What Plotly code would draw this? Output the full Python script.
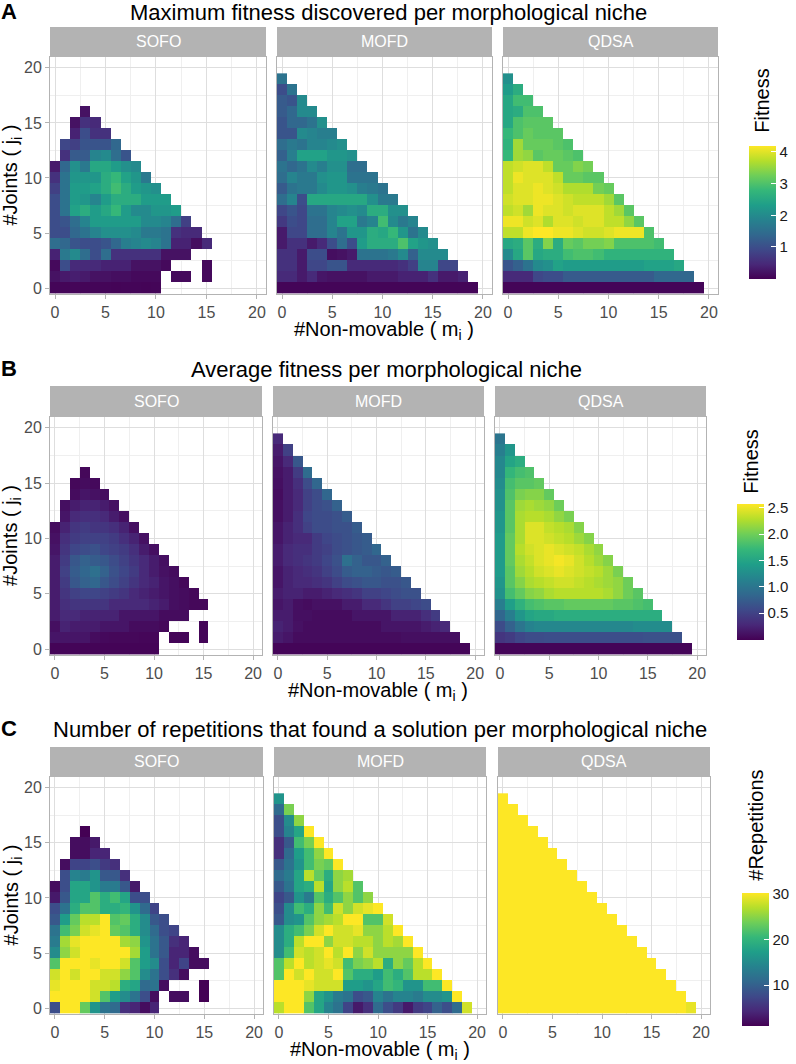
import plotly.graph_objects as go

W, H = 796, 1064

methods = ["SOFO", "MOFD", "QDSA"]
m_vals = list(range(20))   # non-movable modules
j_vals = list(range(20))   # joints
N = None

# ---- A: maximum fitness, rows are j = 0, 1, 2 ... (values for m = 0, 1, ...)
max_sofo = [
    [0.05, 0.05, 0.06, 0.05, 0.05, 0.05, 0.04, 0.05, 0.05, 0.04, 0.05],
    [0.2, 0.3, 0.35, 0.3, 0.2, 0.2, 0.15, 0.15, 0.1, 0.1, 0.1, N, 0.1, 0.1, N, 0.1],
    [0.1, 1.0, 0.5, 0.5, 0.5, 0.4, 0.4, 0.4, 0.2, 0.2, 0.2, 0.1, N, N, N, 0.1],
    [0.4, 1.7, 2.0, 1.5, 1.0, 1.5, 0.6, 0.6, 0.6, 0.6, 0.6, 0.2, 0.2, 0.2],
    [1.5, 1.4, 1.1, 1.0, 1.0, 1.1, 1.4, 1.8, 1.9, 2.0, 1.9, 1.6, 0.4, 0.4, 0.15, 0.5],
    [1.0, 1.0, 1.4, 1.6, 1.9, 2.1, 2.1, 2.1, 2.0, 1.7, 1.7, 1.6, 0.6, 0.5, 0.5],
    [1.0, 1.1, 1.5, 1.9, 2.3, 2.3, 2.3, 2.3, 2.3, 2.0, 2.0, 1.9, 1.5, 0.8],
    [1.0, 1.6, 2.4, 2.6, 2.3, 2.5, 2.8, 2.3, 2.0, 2.0, 2.2, 2.2, 2.3],
    [1.0, 1.6, 2.3, 2.2, 1.9, 2.3, 2.6, 2.6, 2.6, 2.3, 2.3, 2.3],
    [0.8, 1.6, 2.3, 2.3, 2.4, 2.6, 2.9, 2.6, 2.3, 2.2, 2.1],
    [0.6, 1.6, 2.2, 2.2, 2.2, 2.6, 2.8, 2.4, 2.2, 1.7],
    [0.3, 1.4, 2.1, 1.7, 2.5, 2.5, 2.3, 2.1, 2.0],
    [N, 0.6, 1.2, 1.2, 1.9, 2.0, 1.5, 1.1],
    [N, 0.9, 0.8, 1.1, 1.1, 1.1, 1.4],
    [N, N, 0.4, 1.0, 0.6, 0.6],
    [N, N, 0.2, 0.6, 0.5],
    [N, N, N, 0.2],
]
max_mofd = [
    [0.05, 0.05, 0.05, 0.05, 0.05, 0.05, 0.05, 0.05, 0.05, 0.05,
     0.05, 0.05, 0.05, 0.05, 0.05, 0.05, 0.05, 0.05, 0.05, 0.05],
    [0.5, 0.5, 0.3, 0.5, 0.25, 0.2, 0.2, 0.2, 0.2, 0.3, 0.3, 0.3, 0.4, 0.4, 0.4, 0.6, 0.3, 0.3, 0.4],
    [0.6, 0.6, 0.3, 0.9, 0.9, 1.1, 1.1, 0.5, 0.5, 0.5, 0.5, 0.5, 0.6, 0.8, 1.9, 1.9, 0.9, 0.9],
    [0.6, 0.6, 0.3, 1.0, 1.0, 0.15, 0.2, 0.3, 1.6, 1.6, 1.6, 1.7, 2.0, 1.3, 2.0, 2.0, 2.0],
    [0.3, 0.6, 0.6, 0.3, 0.5, 1.0, 1.5, 1.0, 2.3, 2.6, 2.6, 2.6, 3.0, 2.4, 2.2, 2.1],
    [0.3, 0.9, 0.9, 1.5, 1.5, 1.9, 1.6, 2.2, 2.2, 2.6, 2.5, 2.8, 2.2, 1.6, 2.0],
    [0.7, 1.0, 0.9, 1.5, 1.5, 1.9, 2.4, 2.4, 1.7, 1.9, 2.9, 2.0, 1.7, 1.9],
    [0.9, 1.1, 0.9, 1.6, 1.6, 1.9, 2.0, 2.1, 2.0, 2.6, 2.6, 2.1, 2.1],
    [1.5, 1.9, 1.0, 2.5, 2.5, 2.5, 2.5, 2.5, 2.5, 2.1, 1.7, 1.7],
    [1.2, 1.6, 1.7, 1.7, 2.0, 2.2, 2.2, 2.1, 1.8, 1.7, 1.6],
    [1.5, 1.9, 1.7, 1.7, 2.1, 2.2, 2.2, 1.6, 1.6, 1.6],
    [1.6, 1.4, 1.6, 2.0, 1.8, 2.1, 2.1, 1.5, 1.5],
    [1.3, 1.8, 2.4, 2.4, 2.4, 2.2, 2.2, 2.1],
    [1.5, 1.7, 1.6, 1.9, 1.9, 2.0, 2.1],
    [1.1, 1.1, 2.0, 1.9, 1.8, 1.8],
    [1.1, 1.4, 1.4, 1.6, 2.1],
    [1.2, 1.4, 2.0, 2.0],
    [1.2, 1.1, 2.0],
    [1.0, 1.6],
    [1.6],
]
max_qdsa = [
    [0.05, 0.05, 0.05, 0.05, 0.05, 0.05, 0.05, 0.05, 0.05, 0.05,
     0.05, 0.05, 0.05, 0.05, 0.05, 0.05, 0.05, 0.05, 0.05, 0.05],
    [0.5, 0.5, 0.5, 0.9, 1.0, 1.0, 1.2, 1.2, 1.2, 1.2, 1.2, 1.2, 1.2, 1.2, 1.2, 1.4, 1.4, 1.4, 1.4],
    [1.1, 1.3, 1.6, 2.0, 2.1, 2.4, 2.3, 2.3, 2.3, 2.3, 2.3, 2.3, 2.3, 2.3, 2.4, 2.4, 2.4, 2.5],
    [2.0, 2.5, 3.1, 2.5, 2.6, 2.6, 2.9, 3.0, 3.0, 2.9, 2.7, 2.7, 2.7, 2.7, 2.7, 2.7, 2.7],
    [2.5, 2.6, 3.1, 2.6, 3.4, 2.6, 3.2, 3.1, 3.3, 3.3, 3.4, 3.0, 3.0, 3.0, 3.0, 2.9],
    [3.8, 3.8, 4.1, 4.2, 4.2, 4.1, 4.1, 4.0, 3.9, 3.9, 4.0, 4.1, 4.1, 4.1, 3.0],
    [4.1, 4.1, 3.9, 4.0, 3.7, 4.0, 4.0, 3.9, 4.0, 4.0, 3.8, 3.8, 3.5, 3.1],
    [3.8, 3.9, 3.6, 4.1, 4.0, 4.0, 3.9, 4.0, 4.0, 4.0, 3.8, 3.6, 3.1],
    [3.9, 4.0, 4.0, 4.1, 4.1, 4.0, 3.9, 3.8, 3.8, 3.8, 3.6, 3.1],
    [3.8, 4.0, 4.0, 4.1, 4.0, 3.9, 3.7, 3.7, 3.7, 3.3, 3.2],
    [3.8, 4.1, 4.0, 4.0, 4.0, 3.8, 3.2, 3.2, 3.1, 3.1],
    [3.8, 3.9, 4.0, 4.0, 3.8, 3.2, 3.2, 3.4, 3.3],
    [2.8, 3.6, 3.5, 3.1, 3.2, 3.2, 3.1, 3.0],
    [2.7, 3.6, 3.2, 3.2, 3.2, 3.1, 3.0],
    [2.8, 3.0, 3.2, 3.1, 3.1, 3.1],
    [2.5, 3.0, 3.1, 3.1, 3.1],
    [2.5, 2.6, 3.0, 3.0],
    [2.5, 2.9, 2.9],
    [2.3, 2.6],
    [2.1],
]

# ---- B: average fitness
avg_sofo = [
    [0.02, 0.03, 0.03, 0.02, 0.02, 0.02, 0.02, 0.02, 0.02, 0.02, 0.02],
    [0.15, 0.15, 0.15, 0.15, 0.08, 0.06, 0.05, 0.05, 0.05, 0.04, 0.04, N, 0.03, 0.03, N, 0.03],
    [0.1, 0.25, 0.2, 0.2, 0.2, 0.15, 0.15, 0.15, 0.08, 0.08, 0.08, 0.05, N, N, N, 0.03],
    [0.2, 0.3, 0.3, 0.25, 0.25, 0.25, 0.25, 0.15, 0.15, 0.15, 0.15, 0.08, 0.08, 0.08],
    [0.2, 0.35, 0.4, 0.4, 0.4, 0.4, 0.3, 0.3, 0.3, 0.3, 0.25, 0.2, 0.1, 0.08, 0.05, 0.05],
    [0.2, 0.4, 0.5, 0.55, 0.55, 0.5, 0.45, 0.4, 0.3, 0.25, 0.2, 0.15, 0.1, 0.08, 0.05],
    [0.2, 0.45, 0.7, 0.8, 0.85, 0.7, 0.6, 0.5, 0.4, 0.3, 0.25, 0.15, 0.1, 0.05],
    [0.2, 0.5, 0.75, 0.85, 0.95, 0.8, 0.65, 0.55, 0.45, 0.3, 0.2, 0.12, 0.08],
    [0.2, 0.45, 0.7, 0.8, 0.75, 0.7, 0.6, 0.5, 0.4, 0.3, 0.2, 0.1],
    [0.15, 0.4, 0.55, 0.6, 0.65, 0.55, 0.5, 0.45, 0.35, 0.2, 0.1],
    [0.12, 0.35, 0.45, 0.5, 0.5, 0.5, 0.45, 0.35, 0.25, 0.12],
    [0.08, 0.25, 0.4, 0.45, 0.4, 0.4, 0.35, 0.25, 0.1],
    [N, 0.15, 0.3, 0.35, 0.35, 0.3, 0.2, 0.1],
    [N, 0.1, 0.2, 0.25, 0.25, 0.2, 0.12],
    [N, N, 0.08, 0.15, 0.12, 0.08],
    [N, N, 0.05, 0.08, 0.06],
    [N, N, N, 0.05],
]
avg_mofd = [
    [0.03, 0.03, 0.03, 0.03, 0.03, 0.03, 0.03, 0.03, 0.03, 0.03,
     0.03, 0.03, 0.03, 0.03, 0.03, 0.03, 0.03, 0.03, 0.03, 0.03],
    [0.2, 0.15, 0.08, 0.08, 0.08, 0.08, 0.08, 0.08, 0.08, 0.08, 0.08, 0.08, 0.08, 0.1, 0.1, 0.1, 0.1, 0.1, 0.1],
    [0.25, 0.2, 0.12, 0.08, 0.08, 0.08, 0.08, 0.08, 0.08, 0.08, 0.08, 0.15, 0.15, 0.15, 0.15, 0.2, 0.25, 0.3],
    [0.2, 0.2, 0.1, 0.1, 0.08, 0.08, 0.08, 0.08, 0.15, 0.15, 0.15, 0.15, 0.25, 0.25, 0.25, 0.35, 0.45],
    [0.15, 0.2, 0.1, 0.08, 0.12, 0.12, 0.12, 0.2, 0.2, 0.3, 0.3, 0.4, 0.5, 0.5, 0.55, 0.6],
    [0.2, 0.25, 0.25, 0.2, 0.2, 0.25, 0.3, 0.35, 0.4, 0.5, 0.5, 0.55, 0.6, 0.65, 0.65],
    [0.15, 0.25, 0.3, 0.3, 0.35, 0.4, 0.5, 0.6, 0.65, 0.7, 0.7, 0.65, 0.65, 0.7],
    [0.15, 0.25, 0.3, 0.35, 0.4, 0.5, 0.6, 0.75, 0.8, 0.8, 0.75, 0.7, 0.75],
    [0.2, 0.3, 0.35, 0.4, 0.45, 0.55, 0.65, 0.95, 0.8, 0.7, 0.7, 0.8],
    [0.2, 0.3, 0.35, 0.35, 0.45, 0.5, 0.6, 0.65, 0.7, 0.75, 0.85],
    [0.15, 0.25, 0.3, 0.3, 0.45, 0.55, 0.6, 0.65, 0.7, 0.75],
    [0.15, 0.25, 0.35, 0.5, 0.6, 0.6, 0.65, 0.65, 0.75],
    [0.1, 0.2, 0.35, 0.55, 0.6, 0.6, 0.65, 0.75],
    [0.1, 0.2, 0.3, 0.5, 0.6, 0.65, 0.8],
    [0.08, 0.2, 0.3, 0.5, 0.6, 0.85],
    [0.1, 0.2, 0.35, 0.6, 0.85],
    [0.12, 0.2, 0.45, 0.9],
    [0.15, 0.3, 0.7],
    [0.2, 0.5],
    [0.3],
]
avg_qdsa = [
    [0.03, 0.03, 0.03, 0.03, 0.03, 0.03, 0.03, 0.03, 0.03, 0.03,
     0.03, 0.03, 0.03, 0.03, 0.03, 0.03, 0.03, 0.03, 0.03, 0.03],
    [0.4, 0.45, 0.55, 0.6, 0.6, 0.62, 0.62, 0.62, 0.62, 0.62, 0.62, 0.62, 0.62, 0.62, 0.62, 0.65, 0.65, 0.65, 0.65],
    [0.6, 0.8, 1.0, 1.15, 1.2, 1.2, 1.2, 1.2, 1.2, 1.2, 1.2, 1.2, 1.2, 1.2, 1.25, 1.25, 1.25, 1.25],
    [0.85, 1.1, 1.35, 1.5, 1.55, 1.55, 1.6, 1.6, 1.6, 1.6, 1.6, 1.6, 1.6, 1.6, 1.6, 1.6, 1.6],
    [1.1, 1.45, 1.65, 1.8, 1.85, 1.9, 1.9, 1.95, 1.95, 1.95, 1.95, 1.95, 1.9, 1.9, 1.85, 1.8],
    [1.3, 1.8, 1.95, 2.1, 2.15, 2.25, 2.3, 2.3, 2.3, 2.3, 2.3, 2.25, 2.15, 2.0, 1.9],
    [1.35, 1.9, 2.1, 2.25, 2.3, 2.35, 2.4, 2.4, 2.35, 2.3, 2.25, 2.2, 2.15, 2.0],
    [1.4, 1.9, 2.2, 2.3, 2.4, 2.45, 2.5, 2.45, 2.4, 2.35, 2.3, 2.2, 2.05],
    [1.4, 1.95, 2.25, 2.35, 2.45, 2.5, 2.55, 2.5, 2.4, 2.3, 2.2, 2.1],
    [1.4, 1.95, 2.3, 2.4, 2.45, 2.5, 2.45, 2.4, 2.35, 2.25, 2.15],
    [1.4, 1.95, 2.25, 2.45, 2.45, 2.4, 2.35, 2.3, 2.2, 2.1],
    [1.35, 1.9, 2.25, 2.45, 2.45, 2.35, 2.3, 2.25, 2.1],
    [1.35, 1.9, 2.25, 2.3, 2.3, 2.25, 2.15, 2.05],
    [1.3, 1.9, 2.2, 2.25, 2.2, 2.15, 2.0],
    [1.3, 1.85, 2.05, 2.1, 2.1, 1.95],
    [1.25, 1.8, 1.9, 1.9, 1.95],
    [1.2, 1.7, 1.8, 1.85],
    [1.2, 1.5, 1.6],
    [1.1, 1.35],
    [1.0],
]

# ---- C: number of repetitions (of 30) that found a solution
rep_sofo = [
    [8, 30, 30, 23, 16, 12, 11, 5, 4, 2, 4],
    [30, 30, 30, 30, 28, 22, 17, 15, 12, 8, 2, N, 2, 2, N, 1],
    [29, 30, 30, 30, 28, 28, 27, 19, 18, 11, 12, 2, N, N, N, 1],
    [28, 30, 28, 30, 30, 28, 28, 25, 22, 15, 12, 8, 5, 2],
    [22, 30, 30, 30, 29, 30, 30, 28, 22, 17, 15, 8, 4, 7, 2, 2],
    [15, 25, 28, 30, 30, 30, 30, 30, 26, 17, 12, 9, 4, 4, 2],
    [13, 26, 29, 30, 30, 30, 30, 26, 25, 16, 12, 9, 5, 4],
    [12, 21, 24, 28, 29, 30, 23, 22, 19, 15, 11, 8, 7],
    [9, 17, 23, 27, 27, 30, 22, 23, 19, 15, 9, 8],
    [8, 12, 19, 22, 22, 19, 19, 20, 16, 11, 7],
    [3, 9, 18, 18, 22, 19, 21, 18, 8, 8],
    [2, 8, 18, 18, 16, 13, 13, 9, 3],
    [N, 8, 14, 13, 16, 9, 9, 5],
    [N, 2, 7, 7, 8, 6, 5],
    [N, N, 2, 2, 4, 4],
    [N, N, 2, 2, 3],
    [N, N, N, 1],
]
rep_mofd = [
    [27, 30, 30, 22, 18, 14, 12, 7, 3, 5, 11, 8, 6, 3, 6, 7, 10, 8, 11, 28],
    [30, 30, 30, 25, 18, 16, 13, 12, 8, 9, 14, 12, 14, 14, 13, 15, 15, 16, 30],
    [30, 30, 30, 29, 28, 28, 28, 17, 17, 16, 18, 21, 20, 16, 16, 21, 21, 30],
    [22, 30, 28, 30, 28, 28, 30, 22, 19, 19, 17, 21, 19, 22, 27, 27, 30],
    [22, 27, 30, 27, 28, 29, 28, 21, 24, 25, 27, 19, 25, 23, 27, 30],
    [15, 21, 28, 27, 28, 30, 27, 30, 25, 28, 25, 25, 25, 25, 30],
    [15, 19, 27, 30, 30, 25, 28, 28, 27, 27, 25, 27, 26, 30],
    [15, 19, 21, 24, 28, 30, 28, 28, 29, 25, 25, 27, 30],
    [9, 15, 16, 22, 25, 26, 27, 30, 30, 22, 22, 28],
    [8, 15, 21, 19, 25, 21, 28, 25, 28, 29, 30],
    [7, 9, 16, 13, 22, 19, 22, 25, 22, 25],
    [9, 12, 18, 19, 27, 18, 25, 27, 22],
    [11, 13, 18, 27, 23, 19, 25, 26],
    [9, 12, 16, 21, 24, 23, 30],
    [5, 11, 17, 21, 25, 30],
    [5, 9, 21, 24, 30],
    [8, 14, 18, 30],
    [8, 15, 25],
    [11, 24],
    [16],
]
rep_qdsa = [
    [30, 30, 30, 30, 30, 30, 30, 30, 30, 30, 30, 30, 30, 30, 30, 30, 30, 30, 30, 29],
    [30, 30, 30, 30, 30, 30, 30, 30, 30, 30, 30, 30, 30, 30, 30, 30, 30, 30, 30],
    [30, 30, 30, 30, 30, 30, 30, 30, 30, 30, 30, 30, 30, 30, 30, 30, 30, 30],
    [30, 30, 30, 30, 30, 30, 30, 30, 30, 30, 30, 30, 30, 30, 30, 30, 30],
    [30, 30, 30, 30, 30, 30, 30, 30, 30, 30, 30, 30, 30, 30, 30, 30],
    [30, 30, 30, 30, 30, 30, 30, 30, 30, 30, 30, 30, 30, 30, 30],
    [30, 30, 30, 30, 30, 30, 30, 30, 30, 30, 30, 30, 30, 30],
    [30, 30, 30, 30, 30, 30, 30, 30, 30, 30, 30, 30, 30],
    [30, 30, 30, 30, 30, 30, 30, 30, 30, 30, 30, 30],
    [30, 30, 30, 30, 30, 30, 30, 30, 30, 30, 30],
    [30, 30, 30, 30, 30, 30, 30, 30, 30, 30],
    [30, 30, 30, 30, 30, 30, 30, 30, 30],
    [30, 30, 30, 30, 30, 30, 30, 30],
    [30, 30, 30, 30, 30, 30, 30],
    [30, 30, 30, 30, 30, 30],
    [30, 30, 30, 30, 30],
    [30, 30, 30, 30],
    [30, 30, 30],
    [30, 30],
    [30],
]

FONT = "Liberation Sans, Arial, sans-serif"


def px(x):
    return x / W


def py(y):
    return 1 - y / H


def pad(rows):
    z = [list(r) + [None] * (20 - len(r)) for r in rows]
    while len(z) < 20:
        z.append([None] * 20)
    return z


rows = [
    dict(data=[max_sofo, max_mofd, max_qdsa], letter="A",
         title="Maximum fitness discovered per morphological niche", title_x=388, title_y=13,
         cols=[(50, 266), (277, 492), (503, 718)], strip=27, top=57, bottom=295,
         cb=dict(x=749, top=146, len=133, cmin=0, cmax=4.2, tickvals=[1, 2, 3, 4],
                 ticktext=["1", "2", "3", "4"], title="Fitness", tx=762, ty=101)),
    dict(data=[avg_sofo, avg_mofd, avg_qdsa], letter="B",
         title="Average fitness per morphological niche", title_x=386, title_y=371,
         cols=[(50, 262), (273, 484), (495, 706)], strip=387, top=418, bottom=657,
         cb=dict(x=737, top=505, len=136, cmin=0, cmax=2.58, tickvals=[0.5, 1, 1.5, 2, 2.5],
                 ticktext=["0.5", "1.0", "1.5", "2.0", "2.5"], title="Fitness", tx=751, ty=463)),
    dict(data=[rep_sofo, rep_mofd, rep_qdsa], letter="C",
         title="Number of repetitions that found a solution per morphological niche",
         title_x=380, title_y=732,
         cols=[(50, 263), (274, 486), (498, 710)], strip=749, top=779, bottom=1017,
         cb=dict(x=742, top=896, len=133, cmin=1, cmax=30, tickvals=[10, 20, 30],
                 ticktext=["10", "20", "30"], title="#Repetitions", tx=756, ty=828)),
]

fig = go.Figure()
shapes, annotations = [], []
layout = {}

k = 0
for r, row in enumerate(rows):
    cax = "coloraxis" if r == 0 else f"coloraxis{r + 1}"
    cb = row["cb"]
    layout[cax] = dict(
        colorscale="Viridis", cmin=cb["cmin"], cmax=cb["cmax"],
        colorbar=dict(
            x=px(cb["x"]), xanchor="left", xpad=0,
            y=py(cb["top"]), yanchor="top", ypad=0,
            thickness=27, thicknessmode="pixels",
            len=cb["len"], lenmode="pixels", outlinewidth=0,
            tickvals=cb["tickvals"], ticktext=cb["ticktext"],
            ticks="inside", ticklen=5, tickcolor="white", tickwidth=1,
            tickfont=dict(size=15, color="#1a1a1a", family=FONT),
        ),
    )
    for c, (x0, x1) in enumerate(row["cols"]):
        k += 1
        sfx = "" if k == 1 else str(k)
        fig.add_trace(go.Heatmap(
            x=m_vals, y=j_vals, z=pad(row["data"][c]),
            coloraxis=cax, xaxis=f"x{sfx}", yaxis=f"y{sfx}",
            hoverongaps=False,
        ))
        common = dict(
            showgrid=True, gridcolor="#DEDEDE", gridwidth=0.8, zeroline=False,
            showline=True, mirror=True, linecolor="#B3B3B3", linewidth=1,
            tickmode="linear", tick0=0, dtick=5,
            minor=dict(dtick=2.5, tick0=0, showgrid=True, gridcolor="#EFEFEF", gridwidth=0.5),
            tickfont=dict(size=16, color="#4D4D4D", family=FONT),
            ticks="outside", ticklen=4, tickcolor="#B3B3B3",
        )
        layout[f"xaxis{sfx}"] = dict(
            common, domain=[px(x0), px(x1)], anchor=f"y{sfx}", range=[-0.5, 20.9])
        ydict = dict(
            common, domain=[py(row["bottom"]), py(row["top"])], anchor=f"x{sfx}",
            range=[-0.55, 21.0])
        if c > 0:
            ydict.update(showticklabels=False, ticks="")
        layout[f"yaxis{sfx}"] = ydict

        # facet strip
        shapes.append(dict(type="rect", xref="paper", yref="paper",
                           x0=px(x0), x1=px(x1), y0=py(row["top"]), y1=py(row["strip"]),
                           fillcolor="#B3B3B3", line=dict(width=0), layer="below"))
        annotations.append(dict(x=px((x0 + x1) / 2), y=py((row["strip"] + row["top"]) / 2),
                                xref="paper", yref="paper", text=methods[c], showarrow=False,
                                font=dict(size=16, color="white", family=FONT),
                                xanchor="center", yanchor="middle"))

    left, right = row["cols"][0][0], row["cols"][2][1]
    # panel letter and title
    annotations.append(dict(x=px(9), y=py(row["title_y"] - 1), xref="paper", yref="paper",
                            text=f"<b>{row['letter']}</b>", showarrow=False,
                            font=dict(size=22, color="black", family=FONT),
                            xanchor="center", yanchor="middle"))
    annotations.append(dict(x=px(row["title_x"]), y=py(row["title_y"]), xref="paper", yref="paper",
                            text=row["title"], showarrow=False,
                            font=dict(size=22, color="black", family=FONT),
                            xanchor="center", yanchor="middle"))
    # axis titles
    annotations.append(dict(x=px((left + right) / 2), y=py(row["bottom"] + 36),
                            xref="paper", yref="paper",
                            text="#Non-movable ( m<sub>i</sub> )", showarrow=False,
                            font=dict(size=20, color="black", family=FONT),
                            xanchor="center", yanchor="middle"))
    annotations.append(dict(x=px(12), y=py((row["top"] + row["bottom"]) / 2),
                            xref="paper", yref="paper", textangle=-90,
                            text="#Joints ( j<sub>i</sub> )", showarrow=False,
                            font=dict(size=20, color="black", family=FONT),
                            xanchor="center", yanchor="middle"))
    # legend title
    annotations.append(dict(x=px(cb["tx"]), y=py(cb["ty"]), xref="paper", yref="paper",
                            textangle=-90, text=cb["title"], showarrow=False,
                            font=dict(size=20, color="black", family=FONT),
                            xanchor="center", yanchor="middle"))

fig.update_layout(
    width=W, height=H,
    margin=dict(l=0, r=0, t=0, b=0),
    paper_bgcolor="white", plot_bgcolor="white",
    font=dict(family=FONT),
    shapes=shapes, annotations=annotations,
    showlegend=False,
    **layout,
)

# the page's default body margin would push the figure 8px right and down
fig.write_html("out.html", config={"displayModeBar": False},
               post_script="document.body.style.margin='0';")
